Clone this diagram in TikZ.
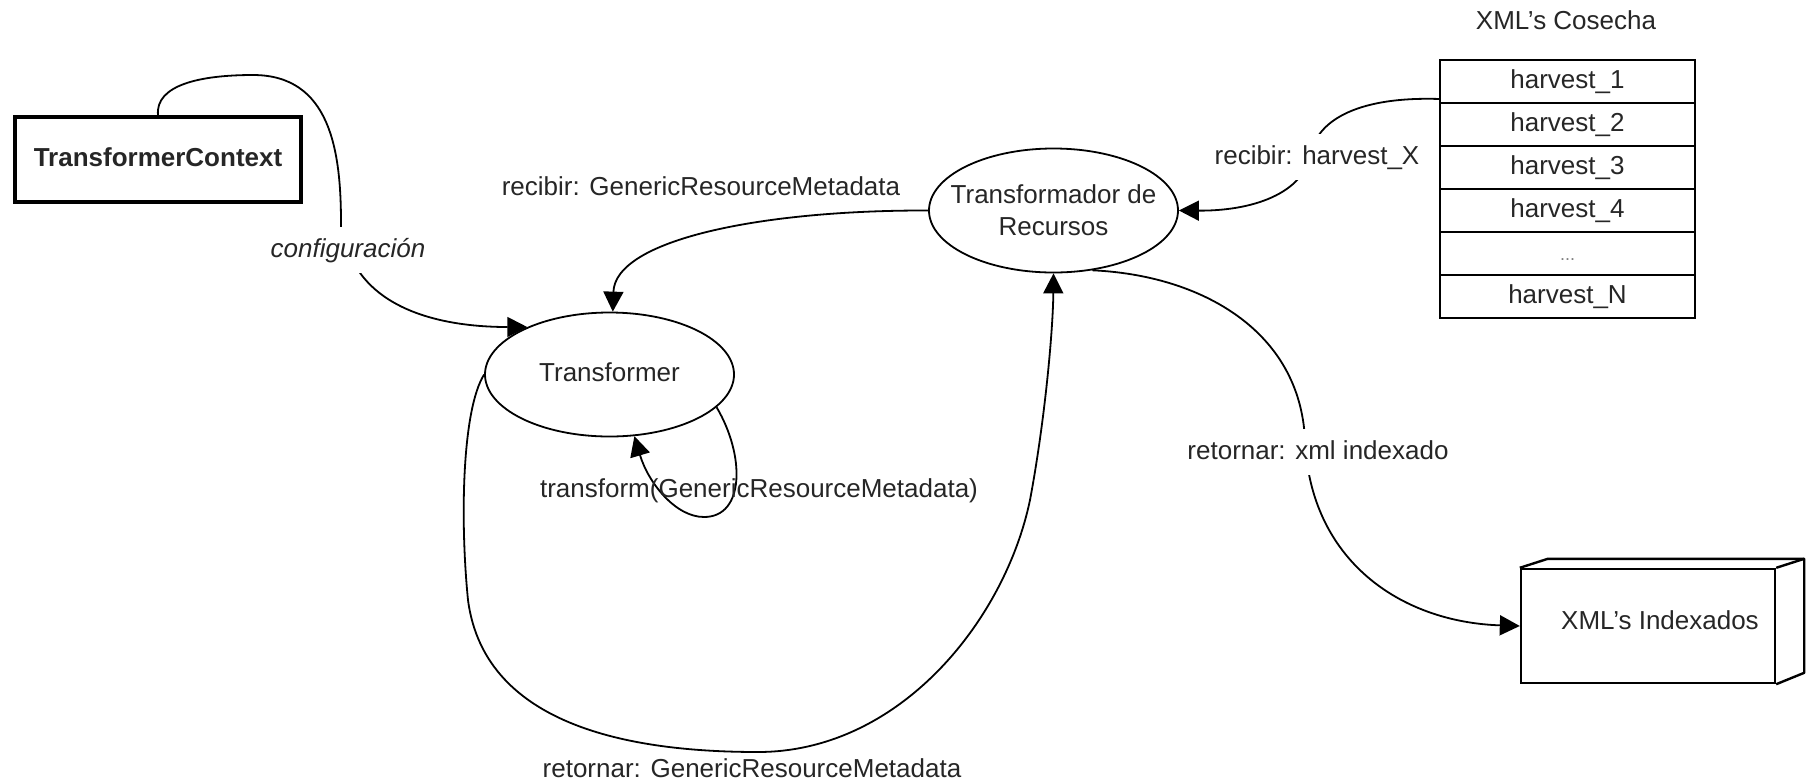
\documentclass[tikz,border=0pt]{standalone}
\usepackage{fontspec}
\setmainfont{Liberation Sans}
\usetikzlibrary{arrows.meta,shapes.geometric,calc}
\definecolor{ink}{HTML}{262626}
\begin{document}
\begin{tikzpicture}[x=0.5pt,y=-0.5pt,
  every node/.style={font=\fontsize{13}{16}\selectfont, text=ink, inner sep=0pt},
  lbl/.style={text height=9.5pt, text depth=2.5pt},
  conn/.style={draw=black, line width=0.9pt, -{Triangle[length=10pt,width=10pt]}},
  proc/.style={ellipse, draw=black, line width=0.9pt, minimum width=124.5pt,
               minimum height=62pt},
  cell/.style={rectangle, draw=black, line width=1.1pt, outer sep=0pt,
               minimum width=127.5pt, minimum height=21.5pt, lbl},
  onwire/.style={lbl, fill=white, inner xsep=2pt, inner ysep=5.5pt}]

\useasboundingbox (0,0) rectangle (1806,783);

% ---- components ----
\node[rectangle, draw=black, line width=1.6pt, minimum width=143pt,
      minimum height=42.5pt, font=\bfseries\fontsize{13}{16}\selectfont, lbl]
      (ctx) at (158,159.5) {TransformerContext};

\node[proc, label={[lbl]center:Transformer}] (tr) at (609.5,374.5) {};
\node[proc, label={[align=center]center:Transformador de\\Recursos}]
      (tdr) at (1053.5,210.5) {};

% harvest list
\node[lbl] (cosecha) at (1566,22) {XML's Cosecha};
\node[cell] (h1) at (1567.5,81.5) {harvest\_1};
\node[cell, anchor=north] (h2) at (h1.south) {harvest\_2};
\node[cell, anchor=north] (h3) at (h2.south) {harvest\_3};
\node[cell, anchor=north] (h4) at (h3.south) {harvest\_4};
\node[cell, anchor=north, font=\fontsize{9}{11}\selectfont, text=gray] (h5) at (h4.south) {...};
\node[cell, anchor=north] (h6) at (h5.south) {harvest\_N};
\coordinate (hx) at ($(h1.south west)+(0,-4)$);

% indexed store (3D box)
\node[rectangle, draw=black, line width=1.2pt, minimum width=127pt,
      minimum height=57pt] (idx) at (1648,626) {};
\draw[line width=1.2pt, line join=round]
  (idx.north west) -- ++(28,-9) -- ($(idx.north east)+(28,-9)$)
  -- ++(0,114) -- (idx.south east);
\draw[line width=1.2pt] (idx.north east) -- ++(28,-9);
\node[lbl] (idxtxt) at (1660,622) {XML's Indexados};

% ---- connectors ----
\draw[conn] (ctx.north) .. controls (155,85) and (200,75) .. (253,75)
  .. controls (330,75) and (341,150) .. (341,223)
  .. controls (341,250) and (345,262) .. (358,270)
  .. controls (390,318) and (460,327) .. (tr.150);

\draw[conn] (tdr.west) .. controls (760,210) and (615,240) .. (tr.87);

\draw[conn] (tr.-17) .. controls (745,455) and (745,517) .. (704,517)
  .. controls (675,517) and (648,482) .. (tr.-68);

\draw[conn] (tr.west) .. controls (462,410) and (460,520) .. (468,600)
  .. controls (485,730) and (640,752) .. (758,752)
  .. controls (900,752) and (1005,620) .. (1030,500)
  .. controls (1045,420) and (1053,330) .. (tdr.south);

\draw[conn] (hx) .. controls (1350,96) and (1318,125) .. (1312,150)
  .. controls (1305,195) and (1250,211) .. (tdr.east);

\draw[conn] (tdr.-57) .. controls (1200,275) and (1300,330) .. (1305,440)
  .. controls (1310,560) and (1400,622) .. (idx.west);

% ---- message labels ----
\node[onwire] (lcfg) at (348,250) {\itshape configuración};
\node[lbl] (lrecv) at (701,188) {recibir: GenericResourceMetadata};
\node[onwire] (lharv) at (1317,157) {recibir: harvest\_X};
\node[lbl] (lxform) at (759,490) {transform(GenericResourceMetadata)};
\node[lbl] (lret) at (752,770) {retornar: GenericResourceMetadata};
\node[onwire] (lxml) at (1318,452) {retornar: xml indexado};
\end{tikzpicture}
\end{document}
